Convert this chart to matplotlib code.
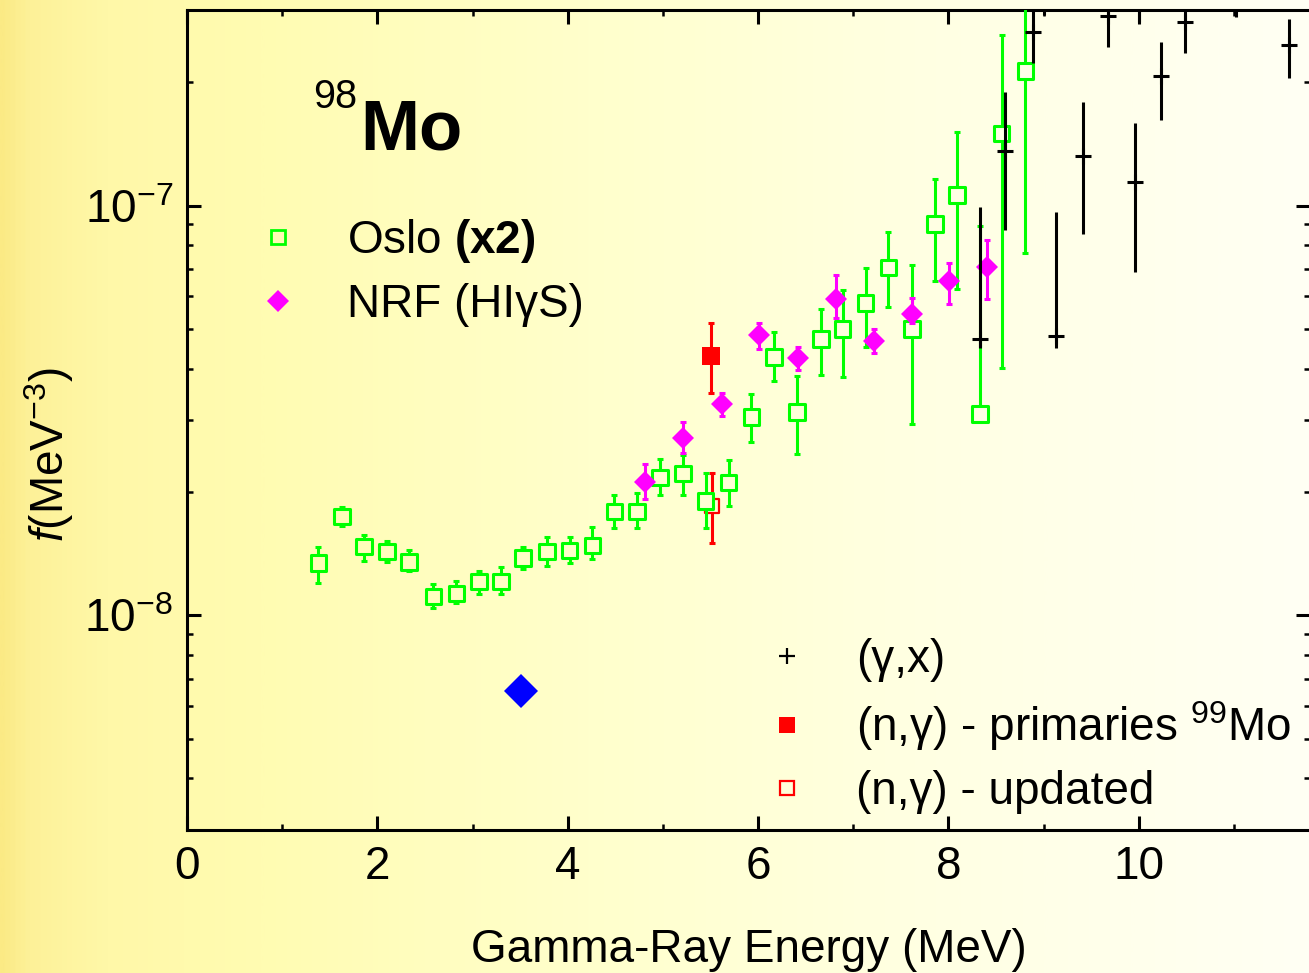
import numpy as np
import matplotlib
matplotlib.use("Agg")
import matplotlib.pyplot as plt
from matplotlib.lines import Line2D
from matplotlib.colors import LinearSegmentedColormap
from matplotlib.ticker import MultipleLocator, LogLocator, NullFormatter, FuncFormatter

plt.rcParams['font.family'] = ['Liberation Sans', 'DejaVu Sans']
plt.rcParams['mathtext.fontset'] = 'custom'
plt.rcParams['mathtext.rm'] = 'Liberation Sans'
plt.rcParams['mathtext.it'] = 'Liberation Sans:italic'
plt.rcParams['mathtext.bf'] = 'Liberation Sans:bold'
plt.rcParams['mathtext.default'] = 'regular'

# ---- Oslo method strength function (scaled x2) ----
oslo_e = [1.38, 1.63, 1.86, 2.10, 2.33, 2.59, 2.83, 3.07, 3.30, 3.53, 3.78, 4.02,
          4.26, 4.49, 4.73, 4.97, 5.21, 5.45, 5.69, 5.93, 6.17, 6.41, 6.66, 6.89,
          7.13, 7.37, 7.62, 7.86, 8.09, 8.33, 8.56, 8.81]
oslo_f = [1.34e-8, 1.74e-8, 1.47e-8, 1.43e-8, 1.35e-8, 1.11e-8, 1.13e-8, 1.21e-8,
          1.21e-8, 1.38e-8, 1.43e-8, 1.44e-8, 1.48e-8, 1.79e-8, 1.79e-8, 2.17e-8,
          2.22e-8, 1.90e-8, 2.11e-8, 3.05e-8, 4.27e-8, 3.13e-8, 4.72e-8, 5.00e-8,
          5.78e-8, 7.05e-8, 4.99e-8, 9.01e-8, 1.06e-7, 3.10e-8, 1.50e-7, 2.13e-7]
oslo_lo = [1.20e-8, 1.65e-8, 1.36e-8, 1.35e-8, 1.28e-8, 1.04e-8, 1.07e-8, 1.13e-8,
           1.13e-8, 1.30e-8, 1.32e-8, 1.34e-8, 1.37e-8, 1.63e-8, 1.63e-8, 1.97e-8,
           1.97e-8, 1.63e-8, 1.85e-8, 2.64e-8, 3.74e-8, 2.48e-8, 3.86e-8, 3.82e-8,
           4.52e-8, 5.64e-8, 2.93e-8, 6.56e-8, 6.26e-8, 3.00e-8, 4.02e-8, 7.67e-8]
oslo_hi = [1.47e-8, 1.84e-8, 1.57e-8, 1.52e-8, 1.44e-8, 1.19e-8, 1.21e-8, 1.28e-8,
           1.31e-8, 1.47e-8, 1.55e-8, 1.55e-8, 1.64e-8, 1.96e-8, 1.99e-8, 2.41e-8,
           2.46e-8, 2.22e-8, 2.39e-8, 3.47e-8, 4.91e-8, 3.84e-8, 5.59e-8, 6.21e-8,
           7.05e-8, 8.60e-8, 7.15e-8, 1.16e-7, 1.51e-7, 8.93e-8, 2.60e-7, 3.40e-7]

# ---- NRF (HIgS) ----
nrf_e = [4.81, 5.21, 5.62, 6.01, 6.42, 6.82, 7.22, 7.62, 8.01, 8.41]
nrf_f = [2.12e-8, 2.71e-8, 3.27e-8, 4.83e-8, 4.25e-8, 5.90e-8, 4.67e-8, 5.45e-8, 6.53e-8, 7.08e-8]
nrf_lo = [1.92e-8, 2.49e-8, 3.07e-8, 4.46e-8, 3.97e-8, 5.30e-8, 4.37e-8, 5.16e-8, 5.74e-8, 5.90e-8]
nrf_hi = [2.34e-8, 2.96e-8, 3.48e-8, 5.17e-8, 4.51e-8, 6.77e-8, 4.99e-8, 5.96e-8, 7.24e-8, 8.25e-8]

# ---- (n,g) primaries and updated value ----
prim_e = [5.51]
prim_f = [4.30e-8]
prim_lo = [3.49e-8]
prim_hi = [5.17e-8]

upd_e = [5.52]
upd_f = [1.85e-8]
upd_lo = [1.50e-8]
upd_hi = [2.22e-8]

# ---- (g,x) photoabsorption ----
gx_e = [8.33, 8.60, 8.89, 9.01, 9.13, 9.41, 9.68, 9.96, 10.00, 10.23, 10.49, 11.02, 11.58]
gx_f = [4.71e-8, 1.36e-7, 2.65e-7, 3.40e-7, 4.80e-8, 1.32e-7, 2.90e-7, 1.14e-7, 3.40e-7,
        2.07e-7, 2.80e-7, 3.40e-7, 2.46e-7]
gx_lo = [4.48e-8, 8.69e-8, 2.23e-7, 2.91e-7, 4.50e-8, 8.50e-8, 2.44e-7, 6.88e-8, 2.81e-7,
         1.62e-7, 2.36e-7, 2.88e-7, 2.05e-7]
gx_hi = [9.91e-8, 1.89e-7, 3.30e-7, 4.00e-7, 9.62e-8, 1.79e-7, 3.40e-7, 1.59e-7, 4.00e-7,
         2.51e-7, 3.30e-7, 4.00e-7, 2.85e-7]

# ---- single point ----
blue_e = [3.51]
blue_f = [6.53e-9]

x_ticks = [0, 2, 4, 6, 8, 10]

GREEN = '#00FF00'
MAGENTA = '#FF00FF'
RED = '#FF0000'
BLUE = '#0000FF'

W, H = 1309, 973
fig = plt.figure(figsize=(W / 100, H / 100), dpi=100)

# warm left-to-right background wash
bg_cmap = LinearSegmentedColormap.from_list('wash', [
    (0.00, '#FBEA85'), (0.02, '#FDF198'), (0.08, '#FFF8A8'), (0.20, '#FFFCB2'),
    (0.45, '#FFFFCC'), (0.70, '#FFFFE2'), (1.00, '#FFFFF4')])
bg = fig.add_axes([0, 0, 1, 1], zorder=-10)
bg.imshow(np.linspace(0, 1, 1024)[None, :], cmap=bg_cmap, aspect='auto',
          extent=[0, 1, 0, 1], interpolation='bilinear')
bg.set_axis_off()

AX_L, AX_B, AX_W, AX_H = 187 / W, 1 - 829.5 / H, 1123 / W, 819.5 / H
ax = fig.add_axes([AX_L, AX_B, AX_W, AX_H])
ax.set_facecolor('none')
ax.set_yscale('log')
XMAX = 11.8
ax.set_xlim(0, XMAX)
ax.set_ylim(3e-9, 3e-7)


def wash_at(e):
    """Background colour behind an energy value, used to keep open markers hollow."""
    return [bg_cmap(AX_L + AX_W * v / XMAX) for v in e]


def err(f, lo, hi):
    f = np.asarray(f)
    return np.vstack([f - np.asarray(lo), np.asarray(hi) - f])


bar_kw = dict(fmt='none', elinewidth=2.2, capsize=2.5, capthick=2.2)

# (n,g) updated: open red square
ax.errorbar(upd_e, upd_f, yerr=err(upd_f, upd_lo, upd_hi), ecolor=RED, zorder=2, **bar_kw)
ax.scatter(upd_e, upd_f, marker='s', s=9.5 ** 2, facecolors=wash_at(upd_e),
           edgecolors=RED, linewidths=1.6, zorder=2.1)

# Oslo: open green squares
ax.errorbar(oslo_e, oslo_f, yerr=err(oslo_f, oslo_lo, oslo_hi), ecolor=GREEN, zorder=3, **bar_kw)
ax.scatter(oslo_e, oslo_f, marker='s', s=11.2 ** 2, facecolors=wash_at(oslo_e),
           edgecolors=GREEN, linewidths=2.2, zorder=3.1)

# NRF: magenta diamonds
ax.errorbar(nrf_e, nrf_f, yerr=err(nrf_f, nrf_lo, nrf_hi), ecolor=MAGENTA, zorder=4, **bar_kw)
ax.plot(nrf_e, nrf_f, ls='none', marker='D', ms=11.5, mfc=MAGENTA, mec=MAGENTA, mew=0, zorder=4.1)

# (n,g) primaries: filled red square
ax.errorbar(prim_e, prim_f, yerr=err(prim_f, prim_lo, prim_hi), ecolor=RED, zorder=5, **bar_kw)
ax.plot(prim_e, prim_f, ls='none', marker='s', ms=13, mfc=RED, mec=RED, mew=0, zorder=5.1)

# blue diamond
ax.plot(blue_e, blue_f, ls='none', marker='D', ms=17, mfc=BLUE, mec=BLUE, mew=0, zorder=5)

# (g,x): black crosses
ax.errorbar(gx_e, gx_f, yerr=err(gx_f, gx_lo, gx_hi), fmt='+', color='black', ms=12, mew=2.2,
            elinewidth=2.2, capsize=0, zorder=6)

# axes styling
for sp in ax.spines.values():
    sp.set_linewidth(2.2)
ax.xaxis.set_major_locator(MultipleLocator(2))
ax.xaxis.set_minor_locator(MultipleLocator(1))
ax.set_xticks(x_ticks)
ax.set_xticklabels([str(t) for t in x_ticks])
ax.yaxis.set_major_locator(LogLocator(base=10, numticks=10))
ax.yaxis.set_minor_locator(LogLocator(base=10, subs=np.arange(2, 10), numticks=20))
ax.yaxis.set_major_formatter(FuncFormatter(lambda v, p: r'$10^{%d}$' % round(np.log10(v))))
ax.yaxis.set_minor_formatter(NullFormatter())
ax.tick_params(which='both', direction='in', top=True, right=True,
               labeltop=False, labelright=False, labelsize=33)
ax.tick_params(which='major', length=10, width=2.2)
ax.tick_params(which='minor', length=4, width=1.8)
ax.tick_params(axis='x', which='major', pad=11)
ax.tick_params(axis='y', which='major', pad=10)

ax.set_xlabel('Gamma-Ray Energy (MeV)', fontsize=33, va='baseline')
ax.xaxis.set_label_coords(0.5, (829.5 - 962) / 819.5)
ax.set_ylabel(r'$\mathit{f}$(MeV$^{-3}$)', fontsize=33)
ax.yaxis.set_label_coords((76 - 187) / 1123, (829.5 - 454.5) / 819.5)

# nucleus label
fig.text(357 / W, 1 - 108 / H, '98', fontsize=28.5, ha='right', va='baseline')
fig.text(360 / W, 1 - 150 / H, 'Mo', fontsize=51, fontweight='bold', ha='left', va='baseline')

# legends
leg_kw = dict(loc='upper left', frameon=False, fontsize=33, handlelength=1.0,
              handletextpad=1.0, borderpad=0, borderaxespad=0)
h_oslo = Line2D([], [], ls='none', marker='s', ms=10, mfc='none', mec=GREEN, mew=2.0)
h_nrf = Line2D([], [], ls='none', marker='D', ms=11, mfc=MAGENTA, mec=MAGENTA, mew=0)
leg1 = ax.legend([h_oslo, h_nrf], [r'Oslo $\mathbf{(x2)}$', 'NRF (HIγS)'],
                 bbox_to_anchor=((255 - 187) / 1123, (829.5 - 217) / 819.5),
                 labelspacing=0.4, **leg_kw)
ax.add_artist(leg1)

h_gx = Line2D([], [], ls='none', marker='+', ms=12, color='black', mew=1.6)
h_prim = Line2D([], [], ls='none', marker='s', ms=12, mfc=RED, mec=RED, mew=0)
h_upd = Line2D([], [], ls='none', marker='s', ms=9.5, mfc='none', mec=RED, mew=1.6)
ax.legend([h_gx, h_prim, h_upd],
          ['(γ,x)', r'(n,γ) - primaries $^{99}$Mo', '(n,γ) - updated'],
          bbox_to_anchor=((764 - 187) / 1123, (829.5 - 638) / 819.5),
          labelspacing=0.37, **leg_kw)

fig.savefig('out.png', dpi=100)
